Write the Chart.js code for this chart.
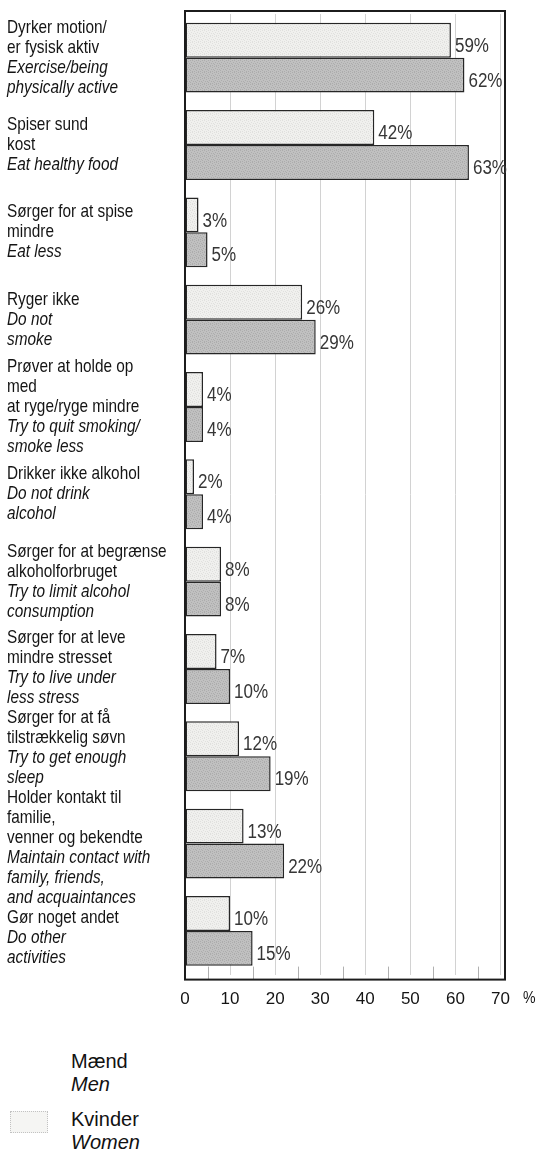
<!DOCTYPE html>
<html>
<head>
<meta charset="utf-8">
<script src="https://cdn.jsdelivr.net/npm/chart.js@4.4.1/dist/chart.umd.min.js"></script>
<style>
    html, body { margin: 0; padding: 0; background: #fff; }
    #wrap { position: relative; width: 538px; height: 1152px; overflow: hidden; }
    #chart { position: absolute; left: 0; top: 0; }
    .legend { position: absolute; left: 71px; font-family: "Liberation Sans", Arial, sans-serif; font-size: 20px; line-height: 23px; color: #111; }
    .swatch { position: absolute; left: 10px; width: 36px; height: 20px; border: 1px dotted #c2c2c2; background: #f5f5f3; }
</style>
</head>
<body>
<div id="wrap">
    <canvas id="chart" width="538" height="1030"></canvas>
    <div class="legend" style="top:1050px">Mænd<br><i>Men</i></div>
    <div class="swatch" style="top:1111px"></div>
    <div class="legend" style="top:1108px">Kvinder<br><i>Women</i></div>
</div>
<script>
// Danish part of each category label
const LABELS_DA = [
    ['Dyrker motion/', 'er fysisk aktiv'],
    ['Spiser sund', 'kost'],
    ['Sørger for at spise', 'mindre'],
    ['Ryger ikke'],
    ['Prøver at holde op', 'med', 'at ryge/ryge mindre'],
    ['Drikker ikke alkohol'],
    ['Sørger for at begrænse', 'alkoholforbruget'],
    ['Sørger for at leve', 'mindre stresset'],
    ['Sørger for at få', 'tilstrækkelig søvn'],
    ['Holder kontakt til', 'familie,', 'venner og bekendte'],
    ['Gør noget andet']
];

// English part (italic)
const LABELS_EN = [
    ['Exercise/being', 'physically active'],
    ['Eat healthy food'],
    ['Eat less'],
    ['Do not', 'smoke'],
    ['Try to quit smoking/', 'smoke less'],
    ['Do not drink', 'alcohol'],
    ['Try to limit alcohol', 'consumption'],
    ['Try to live under', 'less stress'],
    ['Try to get enough', 'sleep'],
    ['Maintain contact with', 'family, friends,', 'and acquaintances'],
    ['Do other', 'activities']
];

// percentages, light bars (first) and dark bars (second)
const MEN   = [59, 42, 3, 26, 4, 2, 8, 7, 12, 13, 10];
const WOMEN = [62, 63, 5, 29, 4, 4, 8, 10, 19, 22, 15];

const X_TICKS = [0, 10, 20, 30, 40, 50, 60, 70];

// check whether the narrow face is installed, otherwise squeeze the regular one
function hasFont(name) {
    const c = document.createElement('canvas').getContext('2d');
    c.font = '40px monospace';
    const w = c.measureText('abcdefghijklm').width;
    c.font = '40px "' + name + '", monospace';
    return c.measureText('abcdefghijklm').width !== w;
}

const NARROW = hasFont('Liberation Sans Narrow');
const FAMILY = NARROW ? '"Liberation Sans Narrow", "Liberation Sans", Arial, sans-serif'
                      : '"Liberation Sans", Arial, sans-serif';
const SQUEEZE = NARROW ? 1 : 0.83;

const TEXT_COLOR = '#141414';
const VALUE_COLOR = '#363636';
const GRID_COLOR = '#d2d2d2';
const EDGE_COLOR = '#262626';
const LINE_H = 20;

// speckled fills, like the printed screen (dots scattered so no hatch shows)
const SPECKS = [[0, 0], [4, 0], [2, 1], [5, 2], [1, 3], [3, 3], [4, 4], [0, 5], [2, 5]];

function makePattern(base, dot) {
    const c = document.createElement('canvas');
    c.width = 6;
    c.height = 6;
    const g = c.getContext('2d');
    g.fillStyle = base;
    g.fillRect(0, 0, 6, 6);
    g.fillStyle = dot;
    SPECKS.forEach(([x, y]) => g.fillRect(x, y, 1, 1));
    return g.createPattern(c, 'repeat');
}

function drawText(ctx, text, x, y) {
    ctx.save();
    ctx.translate(x, y);
    ctx.scale(SQUEEZE, 1);
    ctx.fillText(text, 0, 0);
    ctx.restore();
}

// frame round the plot and the short 5-unit marks at the bottom
const framePlugin = {
    id: 'frame',
    afterDatasetsDraw(chart) {
        const ctx = chart.ctx;
        const xs = chart.scales.x;
        const area = chart.chartArea;
        const top = area.top - 3;
        const bottom = area.bottom + 5;
        const left = xs.getPixelForValue(0);
        const right = area.right;

        ctx.save();
        ctx.strokeStyle = '#b0b0b0';
        ctx.lineWidth = 1;
        for (let v = 5; v < 70; v += 10) {
            const x = Math.round(xs.getPixelForValue(v)) + 0.5;
            ctx.beginPath();
            ctx.moveTo(x, bottom - 13);
            ctx.lineTo(x, bottom);
            ctx.stroke();
        }
        ctx.strokeStyle = '#1c1c1c';
        ctx.lineWidth = 2;
        ctx.strokeRect(left, top, right - left, bottom - top);

        // unit sign after the last tick
        ctx.fillStyle = TEXT_COLOR;
        ctx.font = (NARROW ? 19 : 17) + 'px ' + FAMILY;
        ctx.textBaseline = 'middle';
        ctx.textAlign = 'left';
        drawText(ctx, '%', right + 18, bottom + 19);
        ctx.restore();
    }
};

// two-language category labels on the left, blocks pushed apart where they would collide
const labelPlugin = {
    id: 'catLabels',
    afterDraw(chart) {
        const ctx = chart.ctx;
        const ys = chart.scales.y;
        const blocks = LABELS_DA.map((da, i) => {
            const lines = da.map(t => [t, false]).concat(LABELS_EN[i].map(t => [t, true]));
            const cy = ys.getPixelForValue(i);
            return { lines, top: cy - (lines.length - 1) * LINE_H / 2 };
        });
        for (let pass = 0; pass < 30; pass++) {
            for (let i = 1; i < blocks.length; i++) {
                const prev = blocks[i - 1];
                const cur = blocks[i];
                const overlap = prev.top + prev.lines.length * LINE_H - cur.top;
                if (overlap > 0) {
                    prev.top -= overlap / 2;
                    cur.top += overlap / 2;
                }
            }
        }

        ctx.save();
        ctx.fillStyle = TEXT_COLOR;
        ctx.textBaseline = 'middle';
        ctx.textAlign = 'left';
        blocks.forEach(b => {
            let y = b.top;
            b.lines.forEach(([t, italic]) => {
                ctx.font = (italic ? 'italic ' : '') + '18.5px ' + FAMILY;
                drawText(ctx, t, 7, y);
                y += LINE_H;
            });
        });
        ctx.restore();
    }
};

// percentage next to every bar
const valuePlugin = {
    id: 'barValues',
    afterDatasetsDraw(chart) {
        const ctx = chart.ctx;
        ctx.save();
        ctx.fillStyle = VALUE_COLOR;
        ctx.font = '20.5px ' + FAMILY;
        ctx.textBaseline = 'middle';
        ctx.textAlign = 'left';
        chart.data.datasets.forEach((ds, d) => {
            chart.getDatasetMeta(d).data.forEach((bar, i) => {
                drawText(ctx, ds.data[i] + '%', bar.x + 4, bar.y + 6);
            });
        });
        ctx.restore();
    }
};

const canvas = document.getElementById('chart');
const lightFill = makePattern('#f0f0ee', '#e0e0de');
const darkFill = makePattern('#c0c0c0', '#acacac');

new Chart(canvas, {
    type: 'bar',
    data: {
        labels: LABELS_EN.map(l => l.join(' ')),
        datasets: [{
            label: 'Mænd / Men',
            data: MEN,
            backgroundColor: lightFill,
            borderColor: EDGE_COLOR,
            borderWidth: 1.5,
            borderSkipped: false,
            barPercentage: 1,
            categoryPercentage: 0.8
        }, {
            label: 'Kvinder / Women',
            data: WOMEN,
            backgroundColor: darkFill,
            borderColor: EDGE_COLOR,
            borderWidth: 1.5,
            borderSkipped: false,
            barPercentage: 1,
            categoryPercentage: 0.8
        }]
    },
    options: {
        indexAxis: 'y',
        responsive: false,
        animation: false,
        devicePixelRatio: 1,
        layout: { padding: { left: 185, right: 33, top: 14, bottom: 5 } },
        plugins: {
            legend: { display: false },
            tooltip: { enabled: false }
        },
        scales: {
            x: {
                type: 'linear',
                position: 'bottom',
                min: 0,
                max: 71,
                afterBuildTicks(scale) {
                    scale.ticks = X_TICKS.map(v => ({ value: v }));
                },
                ticks: {
                    padding: 15,
                    color: TEXT_COLOR,
                    font: { family: FAMILY, size: NARROW ? 19.5 : 17 }
                },
                grid: { color: GRID_COLOR, drawTicks: false },
                border: { display: false }
            },
            y: { display: false }
        }
    },
    plugins: [framePlugin, labelPlugin, valuePlugin]
});
</script>
</body>
</html>
